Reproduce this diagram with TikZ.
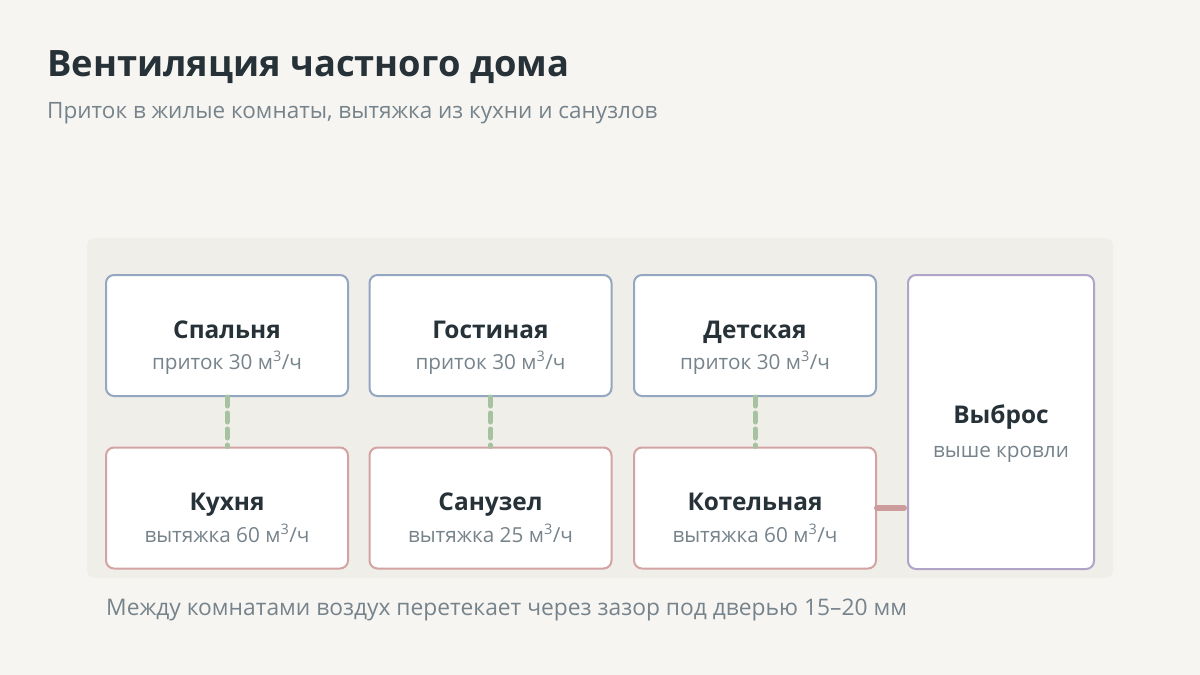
\documentclass[tikz,border=0pt]{standalone}
\usepackage{fontspec}
\setmainfont{Open Sans}
\definecolor{pagebg}{HTML}{F6F5F2}
\definecolor{panelbg}{HTML}{EFEEE9}
\definecolor{ink}{HTML}{263238}
\definecolor{muted}{HTML}{76838B}
\definecolor{supplyline}{HTML}{93A7C2}
\definecolor{exhaustline}{HTML}{D3A3A3}
\definecolor{outletline}{HTML}{B0A4C9}
\definecolor{gapline}{HTML}{A7C2A0}
\definecolor{ductline}{HTML}{CC9C9C}
\begin{document}
\begin{tikzpicture}[x=1pt,y=-1pt]
	\def \rowone{335.5}
	\def \rowtwo{508}
	\tikzstyle{room}=[rectangle,draw,line width=2pt,rounded corners=8pt,fill=white,minimum width=242pt,minimum height=121pt,inner sep=0pt]
	\tikzstyle{s-room}=[room,draw=supplyline]
	\tikzstyle{e-room}=[room,draw=exhaustline]
	\tikzstyle{o-room}=[room,draw=outletline,minimum width=186pt,minimum height=294pt]
	\tikzstyle{room-name}=[anchor=base,text=ink,font=\bfseries\fontsize{24.4}{28}\selectfont,inner sep=0pt]
	\tikzstyle{room-rate}=[anchor=base,text=muted,font=\fontsize{20.7}{24}\selectfont,inner sep=0pt]
	\tikzstyle{gap}=[draw=gapline,line width=5pt,dash pattern=on 9pt off 7pt,line cap=round]
	\tikzstyle{duct}=[draw=ductline,line width=6pt,line cap=round,shorten >=3pt]
	% page and panel
	\fill[pagebg] (0,0) rectangle (1200,675);
	\useasboundingbox (0,0) rectangle (1200,675);
	\fill[panelbg,rounded corners=8pt] (87,238) rectangle (1113,578);
	% heading
	\node[anchor=base west,text=ink,font=\bfseries\fontsize{36.3}{40}\selectfont,inner sep=0pt] (title) at (47,76) {Вентиляция частного дома};
	\node[anchor=base west,text=muted,font=\fontsize{22.5}{26}\selectfont,inner sep=0pt] (subtitle) at (47,118) {Приток в жилые комнаты, вытяжка из кухни и санузлов};
	
	% supply rooms
	\node[s-room]	(bedroom)	at (227,\rowone)	{};
	\node[s-room]	(living)	at (490.5,\rowone)	{};
	\node[s-room]	(nursery)	at (755,\rowone)	{};
	
	% exhaust rooms
	\node[e-room]	(kitchen)	at (227,\rowtwo)	{};
	\node[e-room]	(bathroom)	at (490.5,\rowtwo)	{};
	\node[e-room]	(boiler)	at (755,\rowtwo)	{};
	
	% outlet
	\node[o-room]	(outlet)	at (1001,422)	{};
	
	\node[room-name]	(bedroom-n)	at ([yshift=-2.5pt]bedroom.center)	{Спальня};
	\node[room-rate]	(bedroom-r)	at ([yshift=-34pt]bedroom.center)	{приток 30 м\textsuperscript{3}/ч};
	\node[room-name]	(living-n)	at ([yshift=-2.5pt]living.center)	{Гостиная};
	\node[room-rate]	(living-r)	at ([yshift=-34pt]living.center)	{приток 30 м\textsuperscript{3}/ч};
	\node[room-name]	(nursery-n)	at ([yshift=-2.5pt]nursery.center)	{Детская};
	\node[room-rate]	(nursery-r)	at ([yshift=-34pt]nursery.center)	{приток 30 м\textsuperscript{3}/ч};
	\node[room-name]	(kitchen-n)	at ([yshift=-2.5pt]kitchen.center)	{Кухня};
	\node[room-rate]	(kitchen-r)	at ([yshift=-34.5pt]kitchen.center)	{вытяжка 60 м\textsuperscript{3}/ч};
	\node[room-name]	(bathroom-n)	at ([yshift=-2.5pt]bathroom.center)	{Санузел};
	\node[room-rate]	(bathroom-r)	at ([yshift=-34.5pt]bathroom.center)	{вытяжка 25 м\textsuperscript{3}/ч};
	\node[room-name]	(boiler-n)	at ([yshift=-2.5pt]boiler.center)	{Котельная};
	\node[room-rate]	(boiler-r)	at ([yshift=-34.5pt]boiler.center)	{вытяжка 60 м\textsuperscript{3}/ч};
	\node[room-name]	(outlet-n)	at ([yshift=-1pt]outlet.center)	{Выброс};
	\node[room-rate]	(outlet-r)	at ([yshift=-35pt]outlet.center)	{выше кровли};
	
	\path
		(bedroom.south)	edge[gap]	(kitchen.north)
		(living.south)	edge[gap]	(bathroom.north)
		(nursery.south)	edge[gap]	(boiler.north)
		(boiler.east)	edge[duct]	(boiler.east -| outlet.west);
	
	% footnote
	\node[anchor=base west,text=muted,font=\fontsize{22.8}{26}\selectfont,inner sep=0pt] (footnote) at (106,615) {Между комнатами воздух перетекает через зазор под дверью 15–20 мм};
\end{tikzpicture}
\end{document}
